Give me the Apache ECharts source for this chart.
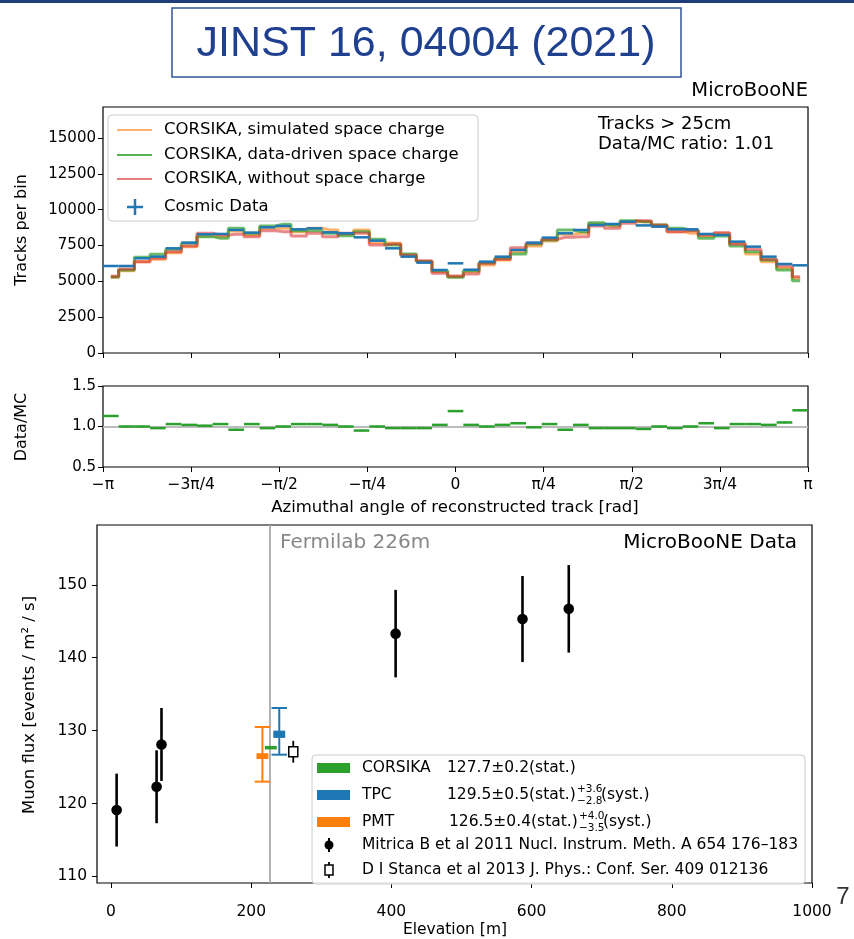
<!DOCTYPE html>
<html>
<head>
<meta charset="utf-8">
<title>MicroBooNE cosmic muons</title>
<script src="https://cdn.jsdelivr.net/npm/echarts@6/dist/echarts.min.js"></script>
<style>
  html, body { margin: 0; padding: 0; background: #fff; }
  #chart { width: 854px; height: 939px; }
</style>
</head>
<body>
<div id="chart"></div>
<script>
// ---- data: azimuthal angle histograms (45 bins from -pi to pi) ----
var simulatedSC = [5280, 5744, 6372, 6535, 6999, 7419, 8163, 8117, 8512, 8233, 8698, 8698, 8466, 8698, 8582,
  8279, 8582, 7698, 7651, 6767, 6372, 5674, 5325, 5674, 6140, 6489, 7070, 7465, 7814, 8279,
  8349, 9000, 8861, 9163, 9163, 8861, 8466, 8349, 8163, 8349, 7651, 6907, 6372, 5907, 5210];
var dataDrivenSC = [5300, 5791, 6675, 6884, 7233, 7651, 8117, 8000, 8698, 8349, 8861, 8977, 8535, 8535, 8349,
  8186, 8466, 7931, 7535, 6907, 6390, 5744, 5279, 5744, 6302, 6605, 6907, 7605, 7884, 8582,
  8466, 9093, 8930, 9233, 9150, 8930, 8698, 8560, 8000, 8163, 7465, 7070, 6489, 5791, 5047];
var withoutSC = [5350, 5861, 6372, 6605, 7070, 7465, 8349, 8233, 8279, 8117, 8535, 8466, 8163, 8349, 8117,
  8349, 8349, 7535, 7605, 6837, 6442, 5558, 5372, 5512, 6256, 6535, 7349, 7651, 7931, 8070,
  8117, 8861, 8698, 9047, 9233, 8930, 8466, 8535, 8233, 8396, 7605, 7233, 6535, 6070, 5325];
var cosmicData = [6070, 6070, 6605, 6721, 7302, 7698, 8279, 8303, 8582, 8396, 8768, 8861, 8628, 8698, 8419,
  8349, 8070, 7838, 7302, 6721, 6302, 5791, 6256, 5810, 6372, 6721, 7186, 7698, 8047, 8349,
  8582, 8930, 9000, 9163, 8900, 8814, 8628, 8628, 8303, 8233, 7768, 7419, 6721, 6209, 6116];
var ratioData = [1.13, 1.00, 1.00, 0.98, 1.03, 1.02, 1.01, 1.03, 0.96, 1.03, 0.98, 1.00, 1.03, 1.03, 1.02,
  1.00, 0.95, 1.00, 0.98, 0.98, 0.98, 1.02, 1.19, 1.02, 1.00, 1.02, 1.04, 0.99, 1.03, 0.96,
  1.02, 0.98, 0.98, 0.98, 0.97, 1.00, 0.98, 1.00, 1.04, 0.98, 1.03, 1.03, 1.02, 1.05, 1.20];
var ratioErr = [0.012, 0.012, 0.012, 0.012, 0.012, 0.012, 0.012, 0.012, 0.012, 0.012, 0.012, 0.012, 0.012, 0.012, 0.012,
  0.012, 0.012, 0.012, 0.012, 0.012, 0.012, 0.012, 0.012, 0.012, 0.012, 0.012, 0.012, 0.012, 0.012, 0.012,
  0.012, 0.012, 0.012, 0.012, 0.012, 0.012, 0.012, 0.012, 0.012, 0.012, 0.012, 0.012, 0.012, 0.012, 0.012];
var phiTickLabels = ['−π', '−3π/4', '−π/2', '−π/4', '0', 'π/4', 'π/2', '3π/4', 'π'];

// ---- data: muon flux vs elevation ----
var mitricaElev = [8, 65, 72, 406, 587, 653];
var mitricaFlux = [119.1, 122.3, 128.1, 143.3, 145.3, 146.7];
var mitricaErr = [5.0, 5.0, 5.0, 6.0, 5.9, 6.0];
var stancaElev = [260];
var stancaFlux = [127.1];
var stancaErr = [1.5];
var fluxNames = ['CORSIKA', 'TPC', 'PMT'];
var fluxElev = [228, 240, 216];
var fluxValue = [127.7, 129.5, 126.5];
var fluxStat = [0.2, 0.5, 0.4];
var fluxSystUp = [0, 3.6, 4.0];
var fluxSystDown = [0, 2.8, 3.5];
var fermilabElev = 226;

var FONT = 'DejaVu Sans';
var NBINS = ratioData.length;
var BIN_HALF = Math.PI / NBINS;
var C_BLUE = '#1f77b4', C_ORANGE = '#ff7f0e', C_GREEN = '#2ca02c', C_RED = '#d62728';
var fluxColors = [C_GREEN, C_BLUE, C_ORANGE];

function centers(vals) {
  return vals.map(function (v, i) { return [-Math.PI + (2 * i + 1) * BIN_HALF, v]; });
}

var myChart = echarts.init(document.getElementById('chart'));

// 横向的bin线段 (data points with x error = bin width)
function binRender(color, width, withErr) {
  return function (params, api) {
    var c = api.value(0), v = api.value(1), e = api.value(2);
    var a = api.coord([c - BIN_HALF, v]);
    var b = api.coord([c + BIN_HALF, v]);
    var kids = [{ type: 'line', shape: { x1: a[0], y1: a[1], x2: b[0], y2: b[1] },
      style: { stroke: color, lineWidth: width } }];
    if (withErr) {
      var t = api.coord([c, v + e]), d = api.coord([c, v - e]);
      kids.push({ type: 'line', shape: { x1: t[0], y1: t[1], x2: d[0], y2: d[1] },
        style: { stroke: color, lineWidth: 1.5 } });
    }
    return { type: 'group', children: kids };
  };
}

function mcLine(name, vals, color, opacity) {
  return {
    name: name, type: 'line', step: 'middle', xAxisIndex: 0, yAxisIndex: 0,
    data: centers(vals), showSymbol: false, silent: true,
    lineStyle: { color: color, width: 3, opacity: opacity }
  };
}

var plain = function (v) { return String(v); };
var noLine = { show: false, onZero: false };
var tickStyle = { show: true, length: 5, lineStyle: { color: '#000', width: 1 } };

var option = {
  animation: false,
  backgroundColor: '#fff',
  grid: [
    { left: 103, top: 107, width: 705, height: 246, show: true, borderColor: '#000', borderWidth: 1.2 },
    { left: 103, top: 386, width: 705, height: 81, show: true, borderColor: '#000', borderWidth: 1.2 },
    { left: 97, top: 525, width: 715, height: 358, show: true, borderColor: '#000', borderWidth: 1.2 }
  ],
  xAxis: [
    { gridIndex: 0, type: 'value', min: -Math.PI, max: Math.PI, interval: Math.PI / 4,
      axisLine: noLine, axisTick: tickStyle, axisLabel: { show: false }, splitLine: { show: false } },
    { gridIndex: 1, type: 'value', min: -Math.PI, max: Math.PI, interval: Math.PI / 4,
      axisLine: noLine, axisTick: tickStyle, splitLine: { show: false },
      axisLabel: { color: '#000', fontFamily: FONT, fontSize: 15.5, margin: 10, formatter: function (v) {
        return phiTickLabels[Math.round(v / (Math.PI / 4)) + 4];
      } } },
    { gridIndex: 2, type: 'value', min: -20, max: 1000, splitNumber: 5,
      axisLine: noLine, axisTick: tickStyle, splitLine: { show: false },
      axisLabel: { color: '#000', fontFamily: FONT, fontSize: 15.5, margin: 21, showMinLabel: false, formatter: plain } }
  ],
  yAxis: [
    { gridIndex: 0, type: 'value', min: 0, max: 17160, interval: 2500,
      axisLine: noLine, axisTick: tickStyle, splitLine: { show: false },
      axisLabel: { color: '#000', fontFamily: FONT, fontSize: 15, margin: 7, showMaxLabel: false, formatter: plain } },
    { gridIndex: 1, type: 'value', min: 0.5, max: 1.5, interval: 0.5,
      axisLine: noLine, axisTick: tickStyle, splitLine: { show: false },
      axisLabel: { color: '#000', fontFamily: FONT, fontSize: 15, margin: 7, formatter: function (v) { return v.toFixed(1); } } },
    { gridIndex: 2, type: 'value', min: 109.1, max: 158.2, splitNumber: 5,
      axisLine: noLine, axisTick: tickStyle, splitLine: { show: false },
      axisLabel: { color: '#000', fontFamily: FONT, fontSize: 15.5, margin: 10, showMinLabel: false, showMaxLabel: false, formatter: plain } }
  ],
  series: [
    mcLine('CORSIKA, simulated space charge', simulatedSC, C_ORANGE, 0.6),
    mcLine('CORSIKA, data-driven space charge', dataDrivenSC, C_GREEN, 0.7),
    mcLine('CORSIKA, without space charge', withoutSC, C_RED, 0.55),
    {
      name: 'Cosmic Data', type: 'custom', xAxisIndex: 0, yAxisIndex: 0, silent: true,
      data: centers(cosmicData), renderItem: binRender(C_BLUE, 2.5, false), z: 5
    },
    {
      name: 'Data/MC', type: 'custom', xAxisIndex: 1, yAxisIndex: 1, silent: true,
      data: centers(ratioData).map(function (p, i) { return [p[0], p[1], ratioErr[i]]; }),
      renderItem: binRender(C_GREEN, 2.5, true), z: 5,
      markLine: { silent: true, symbol: ['none', 'none'], label: { show: false },
        lineStyle: { color: '#bbbbbb', width: 2, type: 'solid' }, data: [{ yAxis: 1.0 }] }
    },
    {
      name: 'Mitrica', type: 'custom', xAxisIndex: 2, yAxisIndex: 2, silent: true, z: 6,
      data: mitricaElev.map(function (e, i) { return [e, mitricaFlux[i], mitricaErr[i]]; }),
      renderItem: function (params, api) {
        var e = api.value(0), v = api.value(1), r = api.value(2);
        var p = api.coord([e, v]), t = api.coord([e, v + r]), d = api.coord([e, v - r]);
        return { type: 'group', children: [
          { type: 'line', shape: { x1: t[0], y1: t[1], x2: d[0], y2: d[1] }, style: { stroke: '#000', lineWidth: 2.6 } },
          { type: 'circle', shape: { cx: p[0], cy: p[1], r: 5.3 }, style: { fill: '#000' } }
        ] };
      },
      markLine: { silent: true, symbol: ['none', 'none'], label: { show: false },
        lineStyle: { color: '#aaaaaa', width: 1.8, type: 'solid' }, data: [{ xAxis: fermilabElev }] }
    },
    {
      name: 'Stanca', type: 'custom', xAxisIndex: 2, yAxisIndex: 2, silent: true, z: 6,
      data: stancaElev.map(function (e, i) { return [e, stancaFlux[i], stancaErr[i]]; }),
      renderItem: function (params, api) {
        var e = api.value(0), v = api.value(1), r = api.value(2);
        var p = api.coord([e, v]), t = api.coord([e, v + r]), d = api.coord([e, v - r]);
        return { type: 'group', children: [
          { type: 'line', shape: { x1: t[0], y1: t[1], x2: d[0], y2: d[1] }, style: { stroke: '#000', lineWidth: 1.8 } },
          { type: 'rect', shape: { x: p[0] - 4.5, y: p[1] - 5, width: 9, height: 10 }, style: { fill: '#fff', stroke: '#000', lineWidth: 1.5 } }
        ] };
      }
    },
    {
      name: 'Flux', type: 'custom', xAxisIndex: 2, yAxisIndex: 2, silent: true, z: 6,
      data: fluxNames.map(function (n, i) {
        return [fluxElev[i], fluxValue[i], fluxStat[i], fluxSystUp[i], fluxSystDown[i], i];
      }),
      renderItem: function (params, api) {
        var e = api.value(0), v = api.value(1), s = api.value(2), up = api.value(3), dn = api.value(4);
        var col = fluxColors[api.value(5)];
        var kids = [];
        if (up > 0) {
          var t = api.coord([e, v + up]), d = api.coord([e, v - dn]);
          var cl = api.coord([e - 11, v + up]), cr = api.coord([e + 11, v + up]);
          var bl = api.coord([e - 11, v - dn]), br = api.coord([e + 11, v - dn]);
          kids.push({ type: 'line', shape: { x1: t[0], y1: t[1], x2: d[0], y2: d[1] }, style: { stroke: col, lineWidth: 2 } });
          kids.push({ type: 'line', shape: { x1: cl[0], y1: cl[1], x2: cr[0], y2: cr[1] }, style: { stroke: col, lineWidth: 2 } });
          kids.push({ type: 'line', shape: { x1: bl[0], y1: bl[1], x2: br[0], y2: br[1] }, style: { stroke: col, lineWidth: 2 } });
        }
        var a = api.coord([e - 8.5, v + s]), b = api.coord([e + 8.5, v - s]);
        kids.push({ type: 'rect', shape: { x: a[0], y: a[1], width: b[0] - a[0], height: Math.max(b[1] - a[1], 3.5) },
          style: { fill: col } });
        return { type: 'group', children: kids };
      }
    }
  ],
  graphic: [
    // header bar and title box
    { type: 'rect', shape: { x: 0, y: 0, width: 854, height: 3 }, style: { fill: '#1f3e79' } },
    { type: 'rect', shape: { x: 172, y: 8, width: 509, height: 69 }, style: { fill: '#fff', stroke: '#2f5597', lineWidth: 1.5 } },
    { type: 'text', x: 426, y: 44, style: { text: 'JINST 16, 04004 (2021)', fontFamily: 'Liberation Sans', fontSize: 43,
      fill: '#1f3f8f', align: 'center', verticalAlign: 'middle' } },
    { type: 'text', x: 808, y: 91, style: { text: 'MicroBooNE', fontFamily: FONT, fontSize: 19.5, fill: '#000', align: 'right', verticalAlign: 'middle' } },
    { type: 'text', x: 843, y: 897, style: { text: '7', fontFamily: 'Liberation Sans', fontSize: 24, fill: '#333', align: 'center', verticalAlign: 'middle' } },

    // top panel annotations
    { type: 'text', x: 598, y: 124, style: { text: 'Tracks > 25cm', fontFamily: FONT, fontSize: 18, fill: '#000', verticalAlign: 'middle' } },
    { type: 'text', x: 598, y: 144, style: { text: 'Data/MC ratio: 1.01', fontFamily: FONT, fontSize: 18, fill: '#000', verticalAlign: 'middle' } },
    { type: 'text', x: 22, y: 230, rotation: Math.PI / 2, style: { text: 'Tracks per bin', fontFamily: FONT, fontSize: 16, fill: '#000', align: 'center', verticalAlign: 'middle' } },
    { type: 'text', x: 22, y: 427, rotation: Math.PI / 2, style: { text: 'Data/MC', fontFamily: FONT, fontSize: 16, fill: '#000', align: 'center', verticalAlign: 'middle' } },
    { type: 'text', x: 455, y: 508, style: { text: 'Azimuthal angle of reconstructed track [rad]', fontFamily: FONT, fontSize: 16.5, fill: '#000', align: 'center', verticalAlign: 'middle' } },

    // top legend
    { type: 'rect', shape: { x: 108, y: 115, width: 370, height: 106, r: 4 }, style: { fill: 'rgba(255,255,255,0.8)', stroke: '#cccccc', lineWidth: 1 }, z: 10 },
    { type: 'line', shape: { x1: 117, y1: 130, x2: 152, y2: 130 }, style: { stroke: C_ORANGE, lineWidth: 2, opacity: 0.6 }, z: 11 },
    { type: 'line', shape: { x1: 117, y1: 155, x2: 152, y2: 155 }, style: { stroke: C_GREEN, lineWidth: 2, opacity: 0.8 }, z: 11 },
    { type: 'line', shape: { x1: 117, y1: 179, x2: 152, y2: 179 }, style: { stroke: C_RED, lineWidth: 2, opacity: 0.6 }, z: 11 },
    { type: 'line', shape: { x1: 127, y1: 207, x2: 143, y2: 207 }, style: { stroke: C_BLUE, lineWidth: 2.5 }, z: 11 },
    { type: 'line', shape: { x1: 135, y1: 199, x2: 135, y2: 215 }, style: { stroke: C_BLUE, lineWidth: 2.5 }, z: 11 },
    { type: 'text', x: 164, y: 130, z: 11, style: { text: 'CORSIKA, simulated space charge', fontFamily: FONT, fontSize: 16.5, fill: '#000', verticalAlign: 'middle' } },
    { type: 'text', x: 164, y: 155, z: 11, style: { text: 'CORSIKA, data-driven space charge', fontFamily: FONT, fontSize: 16.5, fill: '#000', verticalAlign: 'middle' } },
    { type: 'text', x: 164, y: 179, z: 11, style: { text: 'CORSIKA, without space charge', fontFamily: FONT, fontSize: 16.5, fill: '#000', verticalAlign: 'middle' } },
    { type: 'text', x: 164, y: 207, z: 11, style: { text: 'Cosmic Data', fontFamily: FONT, fontSize: 16.5, fill: '#000', verticalAlign: 'middle' } },

    // bottom panel annotations
    { type: 'text', x: 280, y: 543, style: { text: 'Fermilab 226m', fontFamily: FONT, fontSize: 20, fill: '#888', verticalAlign: 'middle' } },
    { type: 'text', x: 797, y: 543, style: { text: 'MicroBooNE Data', fontFamily: FONT, fontSize: 20, fill: '#000', align: 'right', verticalAlign: 'middle' } },
    { type: 'text', x: 30, y: 705, rotation: Math.PI / 2, style: { text: 'Muon flux [events / m² / s]', fontFamily: FONT, fontSize: 16.5, fill: '#000', align: 'center', verticalAlign: 'middle' } },
    { type: 'text', x: 455, y: 930, style: { text: 'Elevation [m]', fontFamily: FONT, fontSize: 15.5, fill: '#000', align: 'center', verticalAlign: 'middle' } },

    // bottom legend
    { type: 'rect', shape: { x: 312, y: 755, width: 493, height: 129, r: 4 }, style: { fill: 'rgba(255,255,255,0.85)', stroke: '#cccccc', lineWidth: 1 }, z: 10 },
    { type: 'rect', shape: { x: 317, y: 763, width: 33, height: 10 }, style: { fill: C_GREEN }, z: 11 },
    { type: 'rect', shape: { x: 317, y: 790, width: 33, height: 10 }, style: { fill: C_BLUE }, z: 11 },
    { type: 'rect', shape: { x: 317, y: 817, width: 33, height: 10 }, style: { fill: C_ORANGE }, z: 11 },
    { type: 'line', shape: { x1: 329, y1: 838, x2: 329, y2: 852 }, style: { stroke: '#000', lineWidth: 2 }, z: 11 },
    { type: 'circle', shape: { cx: 329, cy: 845, r: 4.5 }, style: { fill: '#000' }, z: 11 },
    { type: 'line', shape: { x1: 329, y1: 862, x2: 329, y2: 878 }, style: { stroke: '#000', lineWidth: 1.8 }, z: 11 },
    { type: 'rect', shape: { x: 325, y: 865, width: 8, height: 10 }, style: { fill: '#fff', stroke: '#000', lineWidth: 1.5 }, z: 12 },
    { type: 'text', x: 362, y: 768, z: 11, style: { text: 'CORSIKA', fontFamily: FONT, fontSize: 15.5, fill: '#000', verticalAlign: 'middle' } },
    { type: 'text', x: 447, y: 768, z: 11, style: { text: '127.7±0.2(stat.)', fontFamily: FONT, fontSize: 15.5, fill: '#000', verticalAlign: 'middle' } },
    { type: 'text', x: 362, y: 795, z: 11, style: { text: 'TPC', fontFamily: FONT, fontSize: 15.5, fill: '#000', verticalAlign: 'middle' } },
    { type: 'text', x: 447, y: 795, z: 11, style: { text: '129.5±0.5(stat.)', fontFamily: FONT, fontSize: 15.5, fill: '#000', verticalAlign: 'middle' } },
    { type: 'text', x: 577, y: 789, z: 11, style: { text: '+3.6', fontFamily: FONT, fontSize: 10.5, fill: '#000', verticalAlign: 'middle' } },
    { type: 'text', x: 577, y: 801, z: 11, style: { text: '−2.8', fontFamily: FONT, fontSize: 10.5, fill: '#000', verticalAlign: 'middle' } },
    { type: 'text', x: 601, y: 795, z: 11, style: { text: '(syst.)', fontFamily: FONT, fontSize: 15.5, fill: '#000', verticalAlign: 'middle' } },
    { type: 'text', x: 362, y: 822, z: 11, style: { text: 'PMT', fontFamily: FONT, fontSize: 15.5, fill: '#000', verticalAlign: 'middle' } },
    { type: 'text', x: 449, y: 822, z: 11, style: { text: '126.5±0.4(stat.)', fontFamily: FONT, fontSize: 15.5, fill: '#000', verticalAlign: 'middle' } },
    { type: 'text', x: 579, y: 816, z: 11, style: { text: '+4.0', fontFamily: FONT, fontSize: 10.5, fill: '#000', verticalAlign: 'middle' } },
    { type: 'text', x: 579, y: 828, z: 11, style: { text: '−3.5', fontFamily: FONT, fontSize: 10.5, fill: '#000', verticalAlign: 'middle' } },
    { type: 'text', x: 603, y: 822, z: 11, style: { text: '(syst.)', fontFamily: FONT, fontSize: 15.5, fill: '#000', verticalAlign: 'middle' } },
    { type: 'text', x: 362, y: 845, z: 11, style: { text: 'Mitrica B et al 2011 Nucl. Instrum. Meth. A 654 176–183', fontFamily: FONT, fontSize: 15.5, fill: '#000', verticalAlign: 'middle' } },
    { type: 'text', x: 362, y: 870, z: 11, style: { text: 'D I Stanca et al 2013 J. Phys.: Conf. Ser. 409 012136', fontFamily: FONT, fontSize: 15.5, fill: '#000', verticalAlign: 'middle' } }
  ]
};

myChart.setOption(option);
</script>
</body>
</html>
